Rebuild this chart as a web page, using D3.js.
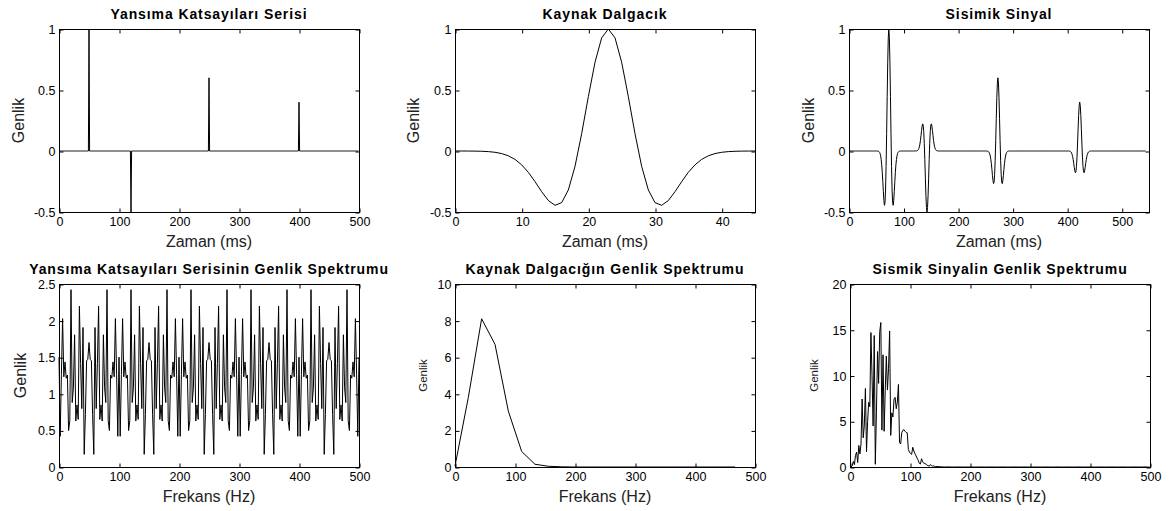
<!DOCTYPE html>
<html>
<head>
<meta charset="utf-8">
<script src="https://cdn.jsdelivr.net/npm/d3@7"></script>
<style>
  body { margin: 0; background: #fff; }
  svg text { font-family: Arial, "Liberation Sans", Helvetica, sans-serif; }
</style>
</head>
<body>
<svg id="chart" width="1172" height="511"></svg>
<script>
// --- data ---

// reflection coefficient series: spike times (ms) and amplitudes, 500 samples at 1 ms
const reflTimes = [50, 120, 250, 400]
const reflAmps = [1, -0.5, 0.6, 0.4]
const reflLength = 500

// source wavelet samples, t = 0..45 ms
const waveletAmps = [
  0, 0, -0.0004, -0.001, -0.0023, -0.0051, -0.0106, -0.021, -0.0392, -0.0688,
  -0.1134, -0.1748, -0.251, -0.3337, -0.4061, -0.4451, -0.4233, -0.3195, -0.1261, 0.1418,
  0.4451, 0.7272, 0.9275, 1, 0.9275, 0.7272, 0.4451, 0.1418, -0.1261, -0.3195,
  -0.4233, -0.4451, -0.4061, -0.3337, -0.251, -0.1748, -0.1134, -0.0688, -0.0392, -0.021,
  -0.0106, -0.0051, -0.0023, -0.001, -0.0004, 0
]

// wavelet amplitude spectrum
const waveletFreqs = [0, 22.2, 44.4, 66.7, 88.9, 111.1, 133.3, 155.6, 177.8, 200, 222.2,
  244.4, 266.7, 288.9, 311.1, 333.3, 355.6, 377.8, 400, 422.2, 444.4, 466.7]
const waveletSpec = [0.05, 3.8, 8.1, 6.7, 3.05, 0.85, 0.15, 0.04, 0.01, 0, 0,
  0, 0, 0, 0, 0, 0, 0, 0, 0, 0, 0]

const sampleRate = 1000 // Hz (1 ms sampling)

// tick labels
const timeTicks = [0, 100, 200, 300, 400, 500]
const waveletTicks = [0, 10, 20, 30, 40]
const freqTicks = [0, 100, 200, 300, 400, 500]
const ampTicks = [-0.5, 0, 0.5, 1]
const reflSpecTicks = [0, 0.5, 1, 1.5, 2, 2.5]
const waveSpecTicks = [0, 2, 4, 6, 8, 10]
const traceSpecTicks = [0, 5, 10, 15, 20]

// --- derived series (built from the arrays above) ---

const reflSeries = new Array(reflLength).fill(0)
reflTimes.forEach((t, i) => { reflSeries[t] = reflAmps[i] })

// seismic trace = reflection series convolved with the wavelet
const traceLength = reflLength + waveletAmps.length - 1
const trace = new Array(traceLength).fill(0)
reflTimes.forEach((t, i) => {
  waveletAmps.forEach((w, j) => { trace[t + j] += reflAmps[i] * w })
})

// amplitude spectrum up to Nyquist
function ampSpectrum(signal) {
  const n = signal.length
  const out = []
  for (let k = 0; k <= Math.floor(n / 2); k++) {
    let re = 0, im = 0
    for (let j = 0; j < n; j++) {
      if (signal[j] === 0) continue
      const a = -2 * Math.PI * k * j / n
      re += signal[j] * Math.cos(a)
      im += signal[j] * Math.sin(a)
    }
    out.push([k * sampleRate / n, Math.hypot(re, im)])
  }
  return out
}

const panels = [
  {
    left: 59, top: 29, title: 'Yansıma Katsayıları Serisi', xLabel: 'Zaman (ms)',
    xDomain: [0, 500], xTicks: timeTicks, yDomain: [-0.5, 1], yTicks: ampTicks,
    points: reflSeries.map((v, i) => [i, v]), yLabelDx: -41, yLabelSize: 16
  },
  {
    left: 455, top: 29, title: 'Kaynak Dalgacık', xLabel: 'Zaman (ms)',
    xDomain: [0, 45], xTicks: waveletTicks, yDomain: [-0.5, 1], yTicks: ampTicks,
    points: waveletAmps.map((v, i) => [i, v]), yLabelDx: -42, yLabelSize: 16
  },
  {
    left: 849, top: 29, title: 'Sisimik Sinyal', xLabel: 'Zaman (ms)',
    xDomain: [0, 550], xTicks: timeTicks, yDomain: [-0.5, 1], yTicks: ampTicks,
    points: trace.map((v, i) => [i, v]), yLabelDx: -41, yLabelSize: 16
  },
  {
    left: 59, top: 284, title: 'Yansıma Katsayıları Serisinin Genlik Spektrumu', xLabel: 'Frekans (Hz)',
    xDomain: [0, 500], xTicks: freqTicks, yDomain: [0, 2.5], yTicks: reflSpecTicks,
    points: ampSpectrum(reflSeries), yLabelDx: -39, yLabelSize: 16
  },
  {
    left: 455, top: 284, title: 'Kaynak Dalgacığın Genlik Spektrumu', xLabel: 'Frekans (Hz)',
    xDomain: [0, 500], xTicks: freqTicks, yDomain: [0, 10], yTicks: waveSpecTicks,
    points: waveletFreqs.map((f, i) => [f, waveletSpec[i]]), yLabelDx: -32, yLabelSize: 11.5
  },
  {
    left: 850, top: 284, title: 'Sismik Sinyalin Genlik Spektrumu', xLabel: 'Frekans (Hz)',
    xDomain: [0, 500], xTicks: freqTicks, yDomain: [0, 20], yTicks: traceSpecTicks,
    points: ampSpectrum(trace), yLabelDx: -36, yLabelSize: 11.5
  }
]

const width = 300
const height = 183
const tickLen = 4
const svg = d3.select('#chart')

function styleAxis(sel, size) {
  sel.attr('font-size', size).attr('font-family', 'Arial, "Liberation Sans", sans-serif')
  sel.select('.domain').remove()
  sel.selectAll('line').attr('stroke', '#000')
  sel.selectAll('text').attr('fill', '#000')
}

function drawPanel(p) {
  const g = svg.append('g').attr('transform', `translate(${p.left},${p.top})`)
  const x = d3.scaleLinear().domain(p.xDomain).range([0, width])
  const y = d3.scaleLinear().domain(p.yDomain).range([height, 0])
  const fmt = d => String(d)

  g.append('path')
    .datum(p.points)
    .attr('fill', 'none')
    .attr('stroke', '#000')
    .attr('stroke-width', 1)
    .attr('d', d3.line().x(d => x(d[0])).y(d => y(d[1])))

  // box
  g.append('rect')
    .attr('x', 0.5).attr('y', 0.5)
    .attr('width', width).attr('height', height)
    .attr('fill', 'none').attr('stroke', '#000').attr('stroke-width', 1)

  // ticks on all four sides, pointing inwards
  g.append('g').attr('transform', `translate(0.5,${height + 0.5})`)
    .call(d3.axisBottom(x).tickValues(p.xTicks).tickFormat(fmt)
      .tickSizeInner(-tickLen).tickSizeOuter(0).tickPadding(5))
    .call(s => styleAxis(s, 12.5))
  g.append('g').attr('transform', 'translate(0.5,0.5)')
    .call(d3.axisTop(x).tickValues(p.xTicks).tickFormat('')
      .tickSizeInner(-tickLen).tickSizeOuter(0))
    .call(s => styleAxis(s, 12.5))
  g.append('g').attr('transform', 'translate(0.5,0.5)')
    .call(d3.axisLeft(y).tickValues(p.yTicks).tickFormat(fmt)
      .tickSizeInner(-tickLen).tickSizeOuter(0).tickPadding(4))
    .call(s => styleAxis(s, 12.5))
  g.append('g').attr('transform', `translate(${width + 0.5},0.5)`)
    .call(d3.axisRight(y).tickValues(p.yTicks).tickFormat('')
      .tickSizeInner(-tickLen).tickSizeOuter(0))
    .call(s => styleAxis(s, 12.5))

  // title
  g.append('text')
    .attr('x', width / 2).attr('y', -10)
    .attr('text-anchor', 'middle')
    .attr('font-size', 14).attr('font-weight', 'bold')
    .attr('letter-spacing', 0.9)
    .attr('fill', '#000')
    .text(p.title)

  // x label
  g.append('text')
    .attr('x', width / 2).attr('y', height + 29)
    .attr('dy', '0.35em')
    .attr('text-anchor', 'middle')
    .attr('font-size', 16)
    .attr('fill', '#222')
    .text(p.xLabel)

  // y label
  g.append('text')
    .attr('transform', `translate(${p.yLabelDx},${height / 2}) rotate(-90)`)
    .attr('dy', '0.35em')
    .attr('text-anchor', 'middle')
    .attr('font-size', p.yLabelSize)
    .attr('fill', '#222')
    .text('Genlik')
}

panels.forEach(drawPanel)
</script>
</body>
</html>
